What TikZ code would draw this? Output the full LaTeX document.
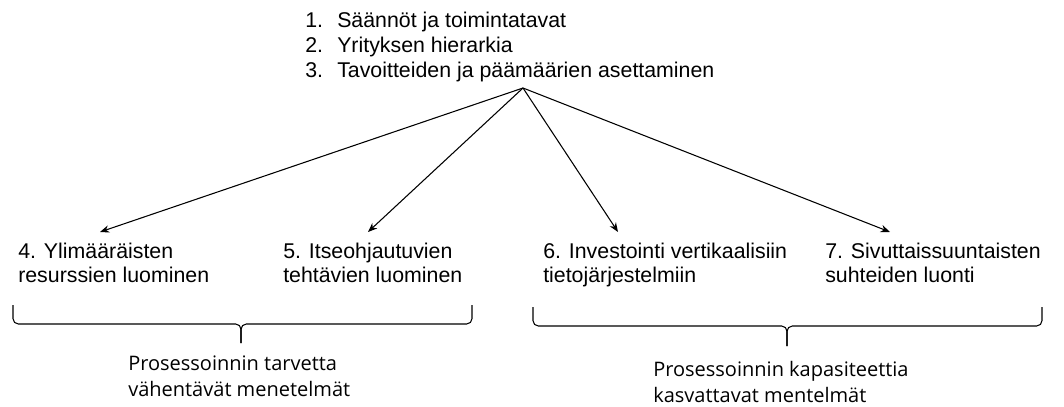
\documentclass[tikz,border=0pt]{standalone}
\usepackage{fontspec}
\setmainfont{Liberation Sans}
\newfontfamily\groupfont{Open Sans}
\usetikzlibrary{arrows.meta}

\tikzset{
	listitem/.style={anchor=base west,inner sep=0pt,font=\fontsize{16}{18.75}\selectfont},
	method/.style={anchor=base west,inner sep=0pt,align=left,font=\fontsize{16}{18}\selectfont},
	group/.style={anchor=base west,inner sep=0pt,align=left,font=\groupfont\fontsize{15}{19}\selectfont},
	link/.style={-{Stealth[length=7pt,width=5.5pt]},line width=0.8pt},
	bracket/.style={line width=0.8pt,rounded corners=4pt}
}

\begin{document}
\begin{tikzpicture}[x=0.75pt,y=-0.75pt]
	\useasboundingbox (0,0) rectangle (1064,407);
	% top list
	\node[listitem] (rules) at (305,27) {\makebox[24pt][l]{1.}Säännöt ja toimintatavat};
	\node[listitem] (hierarchy) at (305,52) {\makebox[24pt][l]{2.}Yrityksen hierarkia};
	\node[listitem] (goals) at (305,77) {\makebox[24pt][l]{3.}Tavoitteiden ja päämäärien asettaminen};
	\coordinate (hub) at (523,88);
	% methods (base = last line)
	\node[method] (slack) at (18,282) {4. Ylimääräisten\\resurssien luominen};
	\node[method] (tasks) at (283,282) {5. Itseohjautuvien\\tehtävien luominen};
	\node[method] (infosys) at (543,282) {6. Investointi vertikaalisiin\\tietojärjestelmiin};
	\node[method] (lateral) at (825,282) {7. Sivuttaissuuntaisten\\suhteiden luonti};
	\coordinate (slackin) at (100,232);
	\coordinate (tasksin) at (368,232);
	\coordinate (infosysin) at (618,232);
	\coordinate (lateralin) at (890,232);
	\draw[link] (hub) -- (slackin);
	\draw[link] (hub) -- (tasksin);
	\draw[link] (hub) -- (infosysin);
	\draw[link] (hub) -- (lateralin);
	% braces
	\draw[bracket] (13,305) -- (13,324) -- (241,324) -- (241,343);
	\draw[bracket] (472,305) -- (472,324) -- (241,324) -- (241,343);
	\draw[bracket] (533,307) -- (533,326) -- (787,326) -- (787,346);
	\draw[bracket] (1042,307) -- (1042,326) -- (787,326) -- (787,346);
	% group labels
	\node[group] (reduce) at (128,396) {Prosessoinnin tarvetta\\vähentävät menetelmät};
	\node[group] (increase) at (653,402) {Prosessoinnin kapasiteettia\\kasvattavat mentelmät};
\end{tikzpicture}
\end{document}
